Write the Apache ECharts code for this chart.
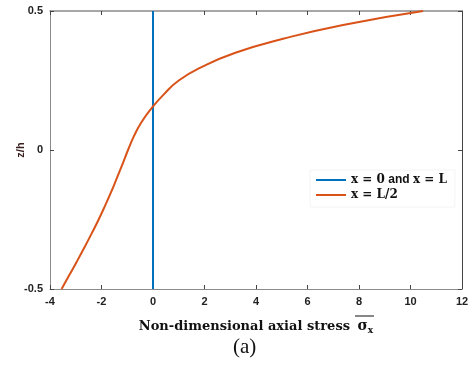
<!DOCTYPE html>
<html>
<head>
<meta charset="utf-8">
<script src="https://cdn.jsdelivr.net/npm/echarts@6/dist/echarts.min.js"></script>
<style>
  html, body { margin: 0; padding: 0; background: #fff; }
  #chart { width: 472px; height: 365px; }
</style>
</head>
<body>
<div id="chart"></div>
<script>
// Through-thickness coordinate z/h
const zh = [-0.5, -0.45, -0.4, -0.35, -0.3, -0.25, -0.2, -0.15, -0.1, -0.05, 0,
            0.05, 0.1, 0.15, 0.2, 0.25, 0.3, 0.35, 0.4, 0.45, 0.5];
// Axial stress at mid-span, x = L/2
const stressMid = [-3.55, -3.25, -2.95, -2.66, -2.38, -2.11, -1.86, -1.62, -1.40, -1.18, -0.97,
                   -0.74, -0.45, -0.06, 0.42, 1.00, 1.92, 3.20, 5.05, 7.38, 10.49];
// Axial stress at the supports, x = 0 and x = L
const stressEnds = [0, 0];
const zEnds = [-0.5, 0.5];

const xTicks = [-4, 12, 2];
const yTicks = [-0.5, 0.5, 0.5];

const seriesNames = ['ends', 'mid'];

const chart = echarts.init(document.getElementById('chart'));

const tickLabel = { fontFamily: 'Liberation Sans, Arial, sans-serif', fontWeight: 'bold', fontSize: 11, color: '#222' };
const axisGray = '#8a8a8a';

chart.setOption({
  animation: false,
  backgroundColor: '#fff',
  grid: { left: 50, right: 10, top: 11, bottom: 76, containLabel: false, outerBoundsMode: 'none' },
  xAxis: [{
    type: 'value', min: xTicks[0], max: xTicks[1], interval: xTicks[2],
    axisLine: { show: true, onZero: false, lineStyle: { color: axisGray, width: 1 } },
    axisTick: { show: true, inside: true, length: 4, lineStyle: { color: '#444' } },
    axisLabel: Object.assign({ margin: 7 }, tickLabel),
    splitLine: { show: false },
    name: '{t|Non-dimensional axial stress }{s|σ}{x|x}',
    nameLocation: 'middle', nameGap: 29, nameMoveOverlap: false,
    nameTextStyle: {
      rich: {
        t: { fontFamily: 'DejaVu Serif, serif', fontWeight: 'bold', fontSize: 13, color: '#111' },
        s: { fontFamily: 'DejaVu Serif, serif', fontWeight: 'bold', fontSize: 14, color: '#111', padding: [0, 0, 0, 3] },
        x: { fontFamily: 'DejaVu Serif, serif', fontWeight: 'bold', fontSize: 9, color: '#111', padding: [8, 0, 0, 0] }
      }
    }
  }, {
    type: 'value', position: 'top', min: xTicks[0], max: xTicks[1], interval: xTicks[2],
    axisLine: { show: true, onZero: false, lineStyle: { color: axisGray, width: 1.5 } },
    axisTick: { show: true, inside: true, length: 4, lineStyle: { color: '#444' } },
    axisLabel: { show: false }, splitLine: { show: false }
  }],
  yAxis: [{
    type: 'value', min: yTicks[0], max: yTicks[1], interval: yTicks[2],
    axisLine: { show: true, onZero: false, lineStyle: { color: axisGray, width: 1 } },
    axisTick: { show: true, inside: true, length: 4, lineStyle: { color: '#444' } },
    axisLabel: Object.assign({ margin: 7 }, tickLabel),
    splitLine: { show: false },
    name: 'z/h', nameLocation: 'middle', nameGap: 24, nameRotate: 90, nameMoveOverlap: false,
    nameTextStyle: { fontFamily: 'Liberation Sans, Arial, sans-serif', fontWeight: 'bold', fontSize: 11, color: '#3a2020' }
  }, {
    type: 'value', position: 'right', min: yTicks[0], max: yTicks[1], interval: yTicks[2],
    axisLine: { show: true, onZero: false, lineStyle: { color: '#444', width: 1 } },
    axisTick: { show: true, inside: true, length: 4, lineStyle: { color: '#444' } },
    axisLabel: { show: false }, splitLine: { show: false }
  }],
  legend: {
    orient: 'vertical', left: 310, top: 170,
    padding: [4, 8, 6, 6],
    backgroundColor: '#fff', borderColor: '#f4f4f4', borderWidth: 1,
    itemWidth: 30, itemHeight: 10, itemGap: 3,
    icon: 'path://M0,4L30,4L30,6L0,6Z',
    formatter: function (name) {
      return name === 'ends'
        ? '{m|x = 0} {a|and} {m|x = L}'
        : '{m|x = L/2}';
    },
    textStyle: {
      rich: {
        m: { fontFamily: 'DejaVu Serif, serif', fontWeight: 'bold', fontSize: 12, color: '#111' },
        a: { fontFamily: 'Liberation Sans, Arial, sans-serif', fontWeight: 'bold', fontSize: 12, color: '#111' }
      }
    },
    data: seriesNames
  },
  graphic: [
    // overline on the stress symbol
    { type: 'line', shape: { x1: 355, y1: 316, x2: 374, y2: 316 }, style: { stroke: '#111', lineWidth: 1 } },
    { type: 'text', left: 233, top: 337,
      style: { text: '(a)', font: '21px "Liberation Serif", serif', fill: '#111' } }
  ],
  series: [{
    name: 'ends', type: 'line', showSymbol: false,
    data: stressEnds.map((v, i) => [v, zEnds[i]]),
    lineStyle: { color: '#0072BD', width: 2 }, itemStyle: { color: '#0072BD' }, z: 3
  }, {
    name: 'mid', type: 'line', showSymbol: false, smooth: 0.5,
    data: stressMid.map((v, i) => [v, zh[i]]),
    lineStyle: { color: '#D95319', width: 2 }, itemStyle: { color: '#D95319' }, z: 4
  }]
});
</script>
</body>
</html>
